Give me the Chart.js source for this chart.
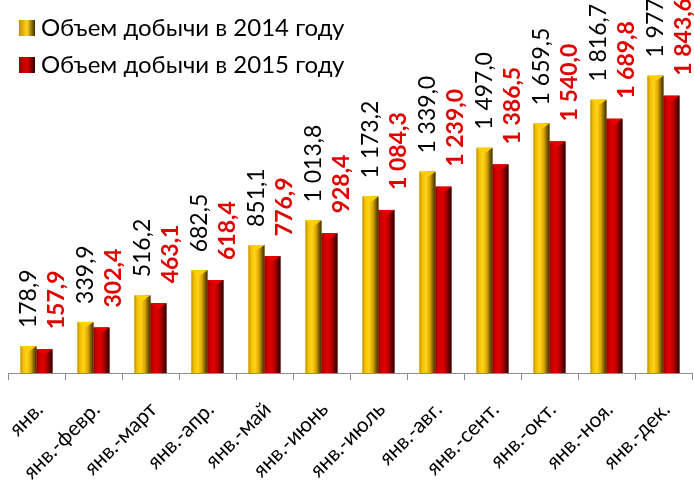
<!DOCTYPE html>
<html>
<head>
<meta charset="utf-8">
<script src="https://cdn.jsdelivr.net/npm/chart.js@4.4.1/dist/chart.umd.min.js"></script>
<style>
  html, body { margin: 0; padding: 0; background: #fff; }
  #wrap { width: 694px; height: 480px; }
</style>
</head>
<body>
<div id="wrap"><canvas id="chart"></canvas></div>
<script>
const months = ['янв.', 'янв.-февр.', 'янв.-март', 'янв.-апр.', 'янв.-май', 'янв.-июнь',
  'янв.-июль', 'янв.-авг.', 'янв.-сент.', 'янв.-окт.', 'янв.-ноя.', 'янв.-дек.'];
const output2014 = [178.9, 339.9, 516.2, 682.5, 851.1, 1013.8, 1173.2, 1339.0, 1497.0, 1659.5, 1816.7, 1977.0];
const output2015 = [157.9, 302.4, 463.1, 618.4, 776.9, 928.4, 1084.3, 1239.0, 1386.5, 1540.0, 1689.8, 1843.6];
const seriesNames = ['Объем добычи в 2014 году', 'Объем добычи в 2015 году'];

const FONT = 'Lato, "Open Sans", sans-serif';

// колонки с "объемом": светлая полоса слева от середины, тёмный правый край
const palette = [
  { base: '#e0a800', stops: ['#c09000', '#f0be00', '#ffd41c', '#dca600', '#7a5c00', '#3d2c00'], cap: '#ffd000',
    label: '#000000', weight: 'normal', dx: 0, gap: 18 },
  { base: '#c00000', stops: ['#940000', '#c80000', '#e20000', '#b00000', '#600000', '#2a0000'], cap: '#e60000',
    label: '#e00000', weight: 'bold', dx: 12, gap: 20 }
];

function fmt(v) {
  const s = v.toFixed(1).replace('.', ',');
  const [int, dec] = s.split(',');
  return int.replace(/\B(?=(\d{3})+(?!\d))/g, ' ') + ',' + dec;
}

const shading = {
  id: 'shading',
  afterDatasetsDraw(chart) {
    const ctx = chart.ctx;
    chart.data.datasets.forEach((ds, di) => {
      const p = palette[di];
      chart.getDatasetMeta(di).data.forEach(el => {
        const l = el.x - el.width / 2, r = el.x + el.width / 2;
        const g = ctx.createLinearGradient(l, 0, r, 0);
        const pos = [0, 0.15, 0.4, 0.65, 0.85, 1];
        p.stops.forEach((c, i) => g.addColorStop(pos[i], c));
        ctx.save();
        ctx.fillStyle = g;
        ctx.fillRect(l, el.y, el.width, el.base - el.y);
        // скошенный верх
        const h = el.width * 0.35;
        ctx.fillStyle = p.cap;
        ctx.beginPath();
        ctx.moveTo(l, el.y);
        ctx.lineTo(r, el.y);
        ctx.lineTo(el.x, el.y + h);
        ctx.closePath();
        ctx.fill();
        ctx.restore();
      });
    });
    // подписи значений
    chart.data.datasets.forEach((ds, di) => {
      const p = palette[di];
      ctx.save();
      ctx.font = p.weight + ' 23px ' + FONT;
      ctx.fillStyle = p.label;
      ctx.textAlign = 'left';
      ctx.textBaseline = 'middle';
      chart.getDatasetMeta(di).data.forEach((el, i) => {
        ctx.save();
        ctx.translate(el.x + p.dx, el.y - p.gap);
        ctx.rotate(-Math.PI / 2);
        ctx.fillText(fmt(ds.data[i]), 0, 0);
        ctx.restore();
      });
      ctx.restore();
    });
  },
  afterDraw(chart) {
    const ctx = chart.ctx;
    chart.data.datasets.forEach((ds, di) => {
      const p = palette[di];
      const top = 20 + di * 37;
      const g = ctx.createLinearGradient(19, 0, 35, 0);
      g.addColorStop(0, p.stops[0]);
      g.addColorStop(0.5, p.stops[2]);
      g.addColorStop(1, p.stops[5]);
      ctx.save();
      ctx.fillStyle = g;
      ctx.fillRect(19, top, 16, 16);
      ctx.font = '24px ' + FONT;
      ctx.fillStyle = '#000';
      ctx.textBaseline = 'alphabetic';
      ctx.fillText(ds.label, 41, top + 16);
      ctx.restore();
    });
  }
};

new Chart(document.getElementById('chart'), {
  type: 'bar',
  data: {
    labels: months,
    datasets: [
      { label: seriesNames[0], data: output2014, backgroundColor: palette[0].base },
      { label: seriesNames[1], data: output2015, backgroundColor: palette[1].base }
    ]
  },
  options: {
    responsive: true,
    maintainAspectRatio: false,
    animation: false,
    layout: { padding: { left: 8, right: 2, top: 0, bottom: 0 } },
    datasets: { bar: { barPercentage: 1, categoryPercentage: 0.56 } },
    plugins: { legend: { display: false }, tooltip: { enabled: false } },
    scales: {
      x: {
        afterFit(scale) {
          scale.height = 107;
          scale.paddingLeft = 0;
          scale.paddingRight = 0;
        },
        border: { color: '#8c8c8c', width: 1 },
        grid: { drawOnChartArea: false, tickLength: 7, color: '#8c8c8c' },
        ticks: { color: '#000', font: { family: FONT, size: 21 }, minRotation: 45, maxRotation: 45,
          padding: 17, labelOffset: 3 }
      },
      y: { display: false, min: 0, max: 2480 }
    }
  },
  plugins: [shading]
});
</script>
</body>
</html>
